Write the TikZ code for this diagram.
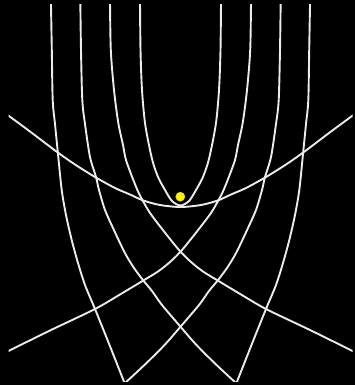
\documentclass[tikz,border=0pt]{standalone}
\usepackage{tikz}

\begin{document}
\begin{tikzpicture}[
		x=1pt, y=-1pt,
		ray/.style = {draw=white!92!black, line width=1.9pt, line join=round},
		sun/.style = {circle, fill=yellow, draw=yellow!80!black, line width=0.3pt, inner sep=0pt, minimum size=9.3pt}
		]
		
		%Background
		\fill[black] (0, 0) rectangle (355, 385);
		\useasboundingbox (0, 0) rectangle (355, 385);
		
		\begin{scope}
		\clip (8.5, 5) rectangle (352.5, 381.7);
		
		%Curves
		\draw[ray] plot[smooth] coordinates {(140,0) (140.5,50) (142,90) (145,123) (150,150) (153.7,165) (158.5,178) (165,190) (172,201) (180.5,205.5) (189,201) (196,190) (202.5,178) (207.3,165) (211,150) (216,123) (219,90) (220.5,50) (221,0)};
		\draw[ray] plot[smooth] coordinates {(0,109.2) (9,116) (30,131.5) (56.7,151.7) (75,164.5) (95,177) (115,188) (130,194.5) (143.3,200.5) (160,205) (180.5,207) (201,205) (217.7,200.5) (231,194.5) (246,188) (266,177) (286,164.5) (304.3,151.7) (331,131.5) (352,116) (361,109.2)};
		\draw[ray] plot[smooth] coordinates {(110,0) (110.8,50) (114,90) (118.3,123) (123,145) (126,160) (133.3,180) (138.5,192.5) (143.5,202) (150,213) (159,225) (170,239) (180.5,251.7) (191,262) (203,271.5) (217.7,280.5) (241,294.5) (266,309) (311,330.5) (352,350.7) (365,357)};
		\draw[ray] plot[smooth] coordinates {(251,0) (250.2,50) (247,90) (242.7,123) (238,145) (235,160) (227.7,180) (222.5,192.5) (217.5,202) (211,213) (202,225) (191,239) (180.5,251.7) (170,262) (158,271.5) (143.3,280.5) (120,294.5) (95,309) (50,330.5) (9,350.7) (-4,357)};
		\draw[ray] plot[smooth] coordinates {(80.3,0) (81,50) (82.3,100) (85,124) (90,157) (96,177) (99,190) (105,210) (113,228) (120,243) (126,255) (134,268) (143.3,280.5) (152,291) (162,305) (180.5,326.7) (196,344.5) (215,363.5) (234.5,381.7) (245.5,392)};
		\draw[ray] plot[smooth] coordinates {(280.7,0) (280,50) (278.7,100) (276,124) (271,157) (265,177) (262,190) (256,210) (248,228) (241,243) (235,255) (227,268) (217.7,280.5) (209,291) (199,305) (180.5,326.7) (165,344.5) (146,363.5) (126.5,381.7) (115.5,392)};
		\draw[ray] plot[smooth] coordinates {(50.9,0) (51.8,50) (52.7,100) (55,124) (58.3,157) (61.7,190) (66,215) (71.7,240) (78,263) (85,285) (95,309) (109.5,345) (124,381.7) (128,392)};
		\draw[ray] plot[smooth] coordinates {(310.1,0) (309.2,50) (308.3,100) (306,124) (302.7,157) (299.3,190) (295,215) (289.3,240) (283,263) (276,285) (266,309) (251.5,345) (237,381.7) (233,392)};
		\end{scope}
		
		%Sun
		\node[sun] (sun) at (180.3, 196.7) {};
	\end{tikzpicture}
\end{document}
